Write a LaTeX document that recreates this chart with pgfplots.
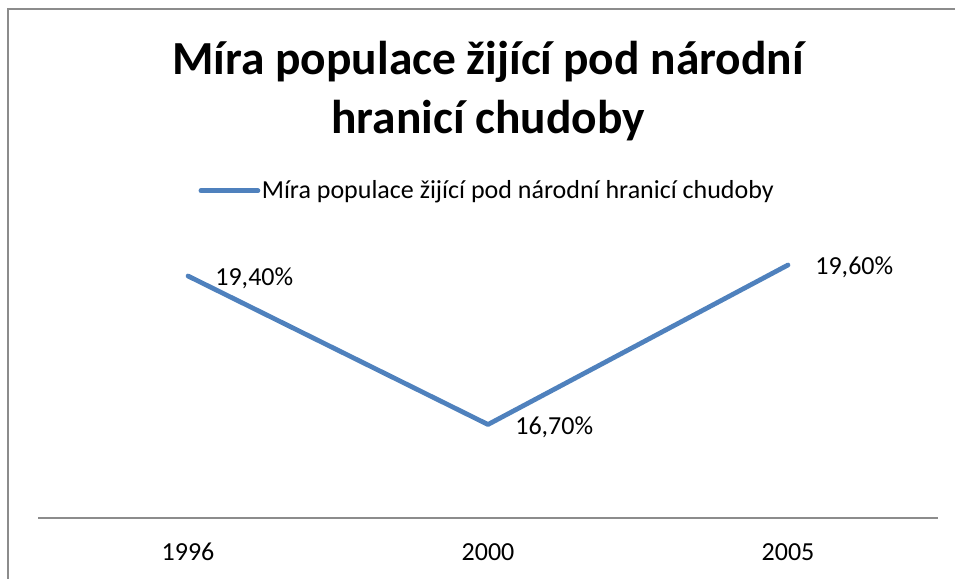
\documentclass[border=0pt]{standalone}
\usepackage{pgfplots}
\pgfplotsset{compat=1.18}
\usepackage{fontspec}
\setmainfont{Carlito}
\definecolor{exblue}{HTML}{4F81BD}
\definecolor{framegray}{HTML}{8C8C8C}
\newcommand{\lblfont}{\fontsize{14.8}{17}\selectfont}
\begin{document}
\begin{tikzpicture}
\useasboundingbox (0,0) rectangle (191mm,115.8mm);
\draw[framegray, line width=0.25mm] (1.6mm,0) -- (1.6mm,114mm) -- (191mm,114mm);
\node[anchor=base, font=\fontsize{27}{32}\selectfont\bfseries] at (97.6mm,100.8mm)
  {Míra populace žijící pod národní};
\node[anchor=base, font=\fontsize{27}{32}\selectfont\bfseries] at (97.6mm,89.0mm)
  {hranicí chudoby};
\begin{axis}[at={(7.6mm,12.2mm)}, anchor=south west, scale only axis,
  width=180mm, height=55mm, xmin=-0.5, xmax=2.5, ymin=15, ymax=20,
  hide y axis, axis x line*=bottom,
  x axis line style={framegray, line width=0.35mm, -},
  xtick={0,1,2}, xticklabels={1996,2000,2005}, major tick length=0pt,
  xticklabel style={anchor=base, yshift=-8.6mm, font=\lblfont, text=black},
  clip=false,
  legend style={at={(0.178,1.19)}, anchor=west, draw=none, fill=none,
    inner sep=0pt, font=\lblfont, nodes={inner sep=0.3mm}},
  legend image code/.code={\draw[#1] (0mm,0mm) -- (11.4mm,0mm);},
  point meta=explicit symbolic, nodes near coords,
  nodes near coords style={anchor=base west, inner sep=0pt, xshift=5mm,
    yshift=-2mm, font=\lblfont, text=black}]
\addplot[exblue, line width=0.95mm, line join=round, line cap=round, no marks] coordinates {
  (0,19.4) [19,40\%]
  (1,16.7) [16,70\%]
  (2,19.6) [19,60\%]
};
\addlegendentry{Míra populace žijící pod národní hranicí chudoby}
\end{axis}
\end{tikzpicture}
\end{document}
